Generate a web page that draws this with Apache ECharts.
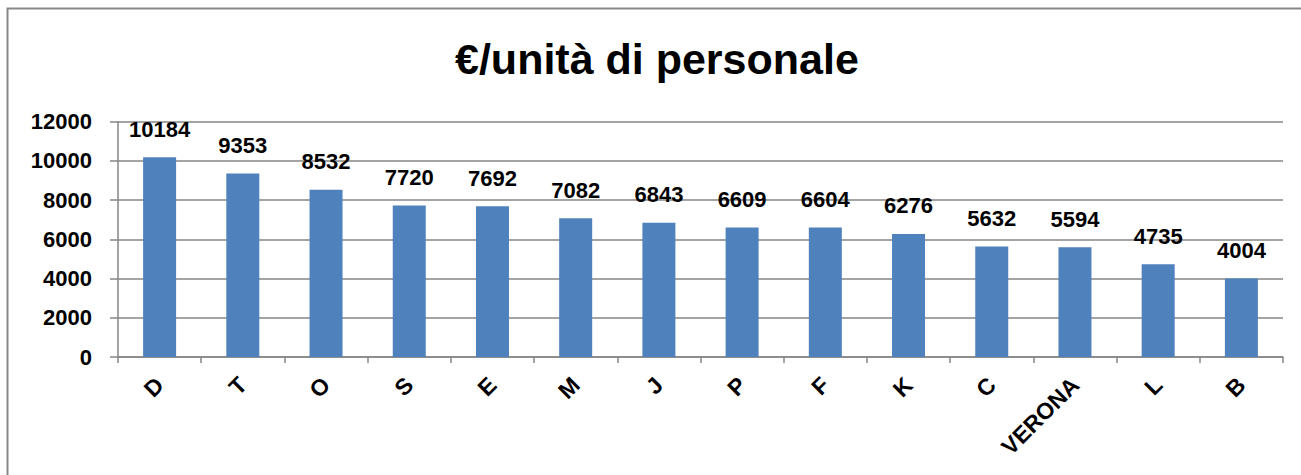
<!DOCTYPE html>
<html>
<head>
<meta charset="utf-8">
<script src="https://cdn.jsdelivr.net/npm/echarts@6/dist/echarts.min.js"></script>
<style>
  html, body { margin: 0; padding: 0; background: #fff; }
  #chart { width: 1301px; height: 475px; }
</style>
</head>
<body>
<div id="chart"></div>
<script>
const titleText = '€/unità di personale';
const categories = ['D', 'T', 'O', 'S', 'E', 'M', 'J', 'P', 'F', 'K', 'C', 'VERONA', 'L', 'B'];
const values = [10184, 9353, 8532, 7720, 7692, 7082, 6843, 6609, 6604, 6276, 5632, 5594, 4735, 4004];
const yTicks = { min: 0, max: 12000, interval: 2000 };

const font = '"Liberation Sans", Arial, sans-serif';
const gridColor = '#868686';

const chart = echarts.init(document.getElementById('chart'), null, { renderer: 'svg' });
chart.setOption({
  animation: false,
  title: {
    text: titleText,
    left: 450,
    top: 32,
    textStyle: { fontFamily: font, fontSize: 43, fontWeight: 'bold', color: '#000' }
  },
  graphic: [{
    type: 'rect',
    shape: { x: 7.5, y: 8.5, width: 1400, height: 600 },
    style: { fill: 'none', stroke: '#878787', lineWidth: 2 },
    silent: true
  }],
  grid: { left: 118, right: 18, top: 121.7, bottom: 118, containLabel: false },
  xAxis: {
    type: 'category',
    data: categories,
    axisLine: { lineStyle: { color: gridColor, width: 1.5 } },
    axisTick: { show: true, length: 6, lineStyle: { color: gridColor, width: 1.5 } },
    axisLabel: {
      rotate: 45,
      margin: 24,
      interval: 0,
      fontFamily: font,
      fontSize: 23,
      fontWeight: 'bold',
      color: '#000'
    }
  },
  yAxis: {
    type: 'value',
    min: yTicks.min,
    max: yTicks.max,
    interval: yTicks.interval,
    axisLine: { show: true, lineStyle: { color: gridColor, width: 1.5 } },
    axisTick: { show: true, length: 8, lineStyle: { color: gridColor, width: 1.5 } },
    splitLine: { lineStyle: { color: gridColor, width: 1.5 } },
    axisLabel: {
      margin: 26,
      formatter: v => String(v),
      fontFamily: font,
      fontSize: 22,
      fontWeight: 'bold',
      color: '#000'
    }
  },
  series: [{
    type: 'bar',
    data: values,
    barWidth: 33,
    itemStyle: { color: '#4F81BD' },
    label: {
      show: true,
      position: 'top',
      distance: 17,
      fontFamily: font,
      fontSize: 22,
      fontWeight: 'bold',
      color: '#000'
    }
  }]
});
</script>
</body>
</html>
